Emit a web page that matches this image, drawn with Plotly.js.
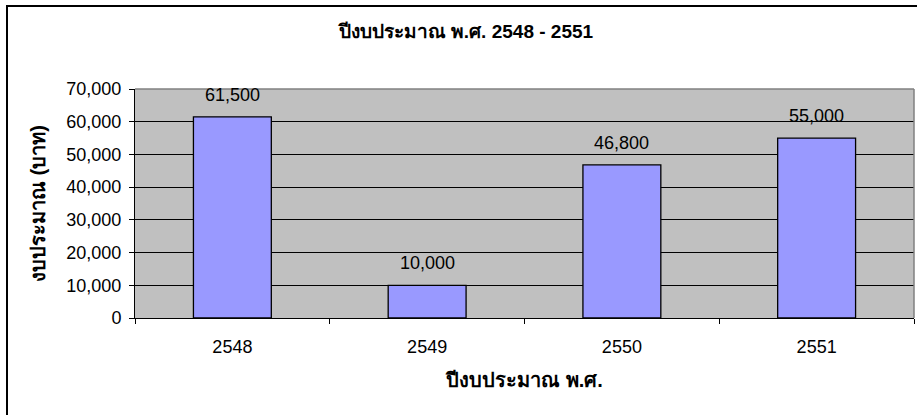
<!DOCTYPE html>
<html>
<head>
<meta charset="utf-8">
<script src="https://cdn.plot.ly/plotly-3.0.1.min.js"></script>
<style>
html,body{margin:0;padding:0;background:#fff;}
#chart{width:917px;height:415px;}
</style>
</head>
<body>
<div id="chart"></div>
<script>
const categories = ['2548', '2549', '2550', '2551'];
const budget = [61500, 10000, 46800, 55000];
const yTickVals = [0, 10000, 20000, 30000, 40000, 50000, 60000, 70000];
const yTickText = ['0', '10,000', '20,000', '30,000', '40,000', '50,000', '60,000', '70,000'];
const labelText = ['61,500', '10,000', '46,800', '55,000'];

const FONT = 'Arial, "Liberation Sans", sans-serif';

const trace = {
  type: 'bar',
  x: categories,
  y: budget,
  marker: {color: '#9999FF', line: {color: '#000000', width: 1.3}},
  hoverinfo: 'none'
};

const annotations = categories.map((c, i) => ({
  x: i, y: budget[i], xref: 'x', yref: 'y',
  text: labelText[i], showarrow: false,
  yanchor: 'bottom', yshift: 10,
  font: {family: FONT, size: 18, color: '#000'}
}));

const L = 135, T = 89, R = 3, B = 97;
const W = 917 - L - R, H = 415 - T - B;
const px = v => (v - L) / W;
const py = v => (415 - B - v) / H;

const layout = {
  width: 917, height: 415,
  margin: {l: L, r: R, t: T, b: B, pad: 0},
  paper_bgcolor: '#ffffff',
  plot_bgcolor: '#C0C0C0',
  showlegend: false,
  bargap: 0.6,
  title: {
    text: '<b>ปีงบประมาณ พ.ศ. 2548 - 2551</b>',
    font: {family: FONT, size: 19, color: '#000'},
    x: 0.508, xanchor: 'center', y: 1 - 31 / 415, yanchor: 'middle', yref: 'container'
  },
  xaxis: {
    type: 'category',
    range: [-0.5, categories.length - 0.5],
    tickson: 'boundaries',
    ticks: 'outside', ticklen: 5, tickcolor: '#000', tickwidth: 1,
    ticklabelstandoff: 12,
    showline: true, linecolor: '#000', linewidth: 1,
    showgrid: false,
    tickangle: 0,
    tickfont: {family: FONT, size: 18, color: '#000'},
    title: {text: '<b>ปีงบประมาณ พ.ศ.</b>', font: {family: FONT, size: 20, color: '#000'}, standoff: 17},
    fixedrange: true
  },
  yaxis: {
    range: [0, 70000],
    tickvals: yTickVals, ticktext: yTickText,
    ticks: 'outside', ticklen: 5, tickcolor: '#000', tickwidth: 1,
    ticklabelstandoff: 4,
    showline: true, linecolor: '#000', linewidth: 1,
    showgrid: true, gridcolor: '#000', gridwidth: 1,
    zeroline: false,
    tickfont: {family: FONT, size: 18, color: '#000'},
    title: {text: '<b>งบประมาณ (บาท)</b>', font: {family: FONT, size: 20, color: '#000'}, standoff: 15},
    fixedrange: true
  },
  annotations: annotations,
  shapes: [
    {type: 'line', xref: 'paper', yref: 'paper', x0: 0, x1: 1, y0: 1, y1: 1, line: {color: '#808080', width: 1.5}, layer: 'above'},
    {type: 'line', xref: 'paper', yref: 'paper', x0: 1, x1: 1, y0: 0, y1: 1, line: {color: '#808080', width: 1.5}, layer: 'above'},
    {type: 'line', xref: 'paper', yref: 'paper', x0: px(7), x1: px(7), y0: py(5), y1: py(420), line: {color: '#000', width: 2}, layer: 'above'},
    {type: 'line', xref: 'paper', yref: 'paper', x0: px(6), x1: px(925), y0: py(6), y1: py(6), line: {color: '#000', width: 2}, layer: 'above'}
  ]
};

Plotly.newPlot('chart', [trace], layout, {displayModeBar: false, staticPlot: true});
</script>
</body>
</html>
